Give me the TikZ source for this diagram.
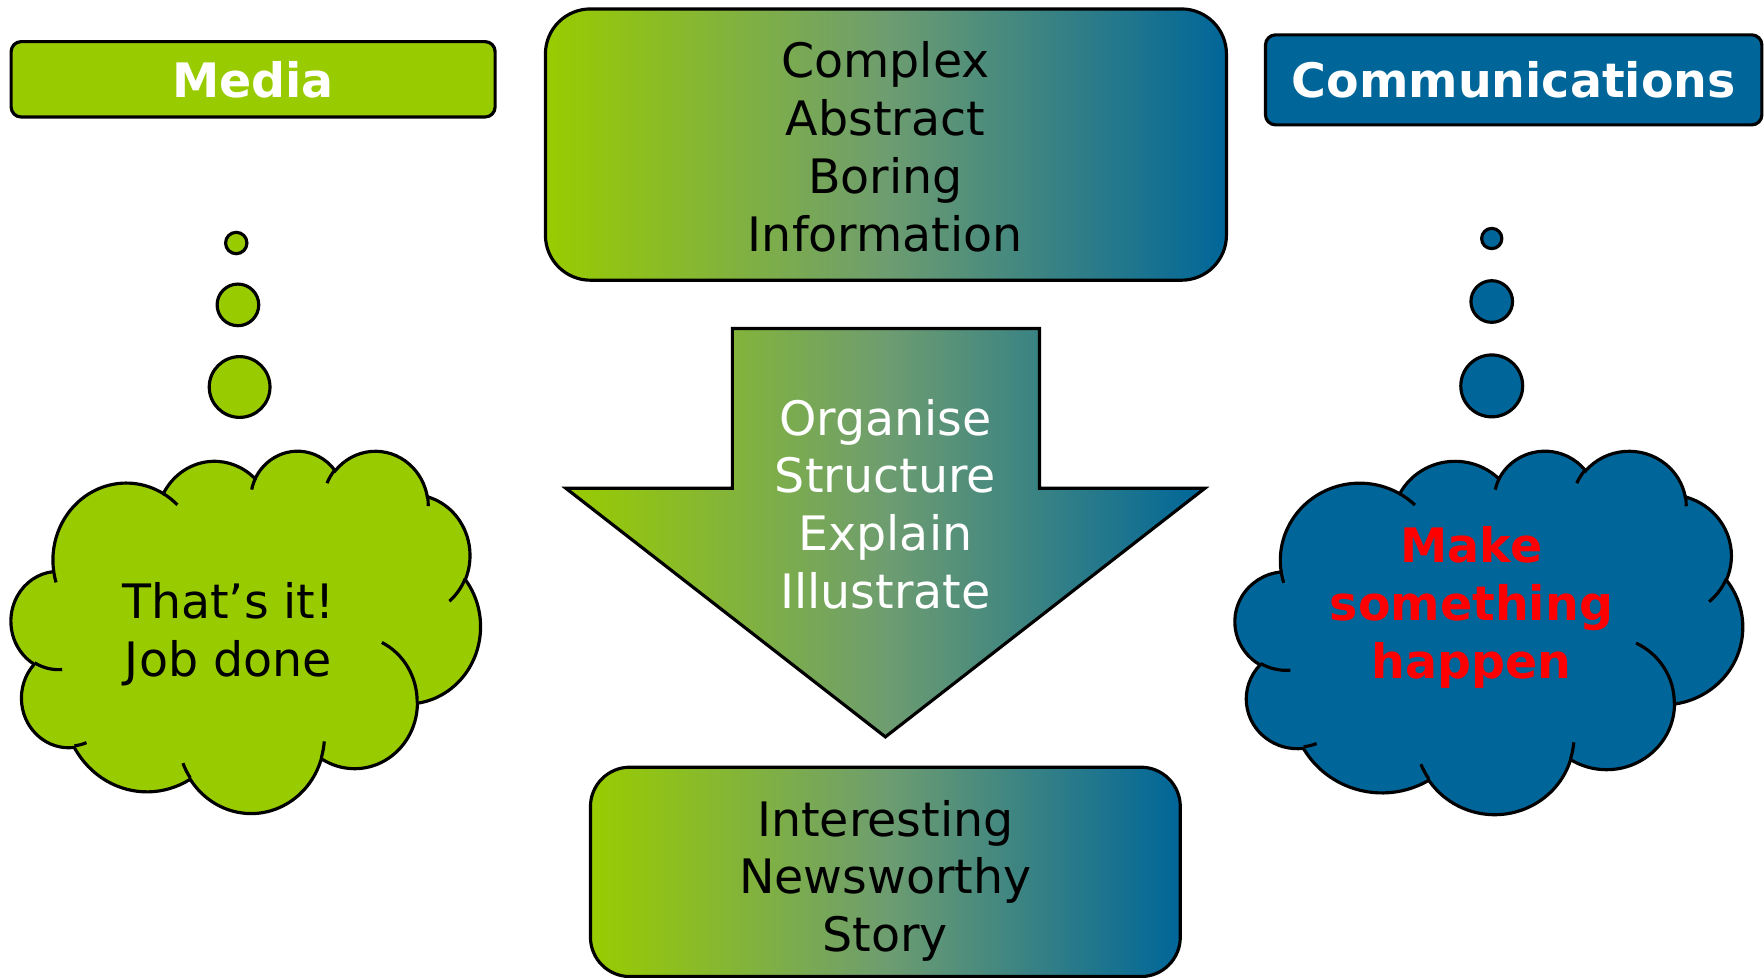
\documentclass[tikz,border=0pt]{standalone}
\usepackage{fontspec}
\setmainfont{DejaVu Sans}
\usepackage{tikz}
\usetikzlibrary{positioning}
\definecolor{mediagreen}{HTML}{99CC00}
\definecolor{commsblue}{HTML}{006699}
\definecolor{fademid}{HTML}{6E9D70}

\begin{document}
\begin{tikzpicture}[x=0.01cm,y=-0.01cm,thick,
    every node/.style={font=\fontsize{12}{14.6}\selectfont,align=center},
    titlebox/.style={draw,rounded corners=0.09cm,text=white,font=\fontsize{12}{14.6}\selectfont\bfseries},
    fadebox/.style={draw,left color=mediagreen,right color=commsblue,middle color=fademid}]
  \useasboundingbox (0,0) rectangle (1568,869);
  \node[titlebox,fill=mediagreen,minimum width=4.30cm,minimum height=0.67cm] (media) at (225,70.5) {Media};
  \node[titlebox,fill=commsblue,minimum width=4.41cm,minimum height=0.80cm] (comms) at (1345.5,71) {Communications};
  \node[fadebox,rounded corners=0.4cm,minimum width=6.05cm,minimum height=2.41cm] (info) at (787.5,128.5) {};
  \node (infotext) at (787,130.5) {Complex\\Abstract\\Boring\\Information};
  \draw[fadebox] (651,292) -- (924,292) -- (924,434) -- (1071,434) -- (787,655) -- (503,434) -- (651,434) -- cycle;
  \node[text=white] (tasks) at (787,448) {Organise\\Structure\\Explain\\Illustrate};
  \node[fadebox,rounded corners=0.35cm,minimum width=5.24cm,minimum height=1.86cm] (story) at (787,775) {};
  \node (storytext) at (787,783) {Interesting\\Newsworthy\\Story};
  \draw[fill=mediagreen] (210,216) circle [radius=9.5];
  \draw[fill=mediagreen] (211.5,271) circle [radius=18.5];
  \draw[fill=mediagreen] (213,344) circle [radius=27];
  \draw[fill=commsblue] (1326,212) circle [radius=9];
  \draw[fill=commsblue] (1326,268) circle [radius=18.5];
  \draw[fill=commsblue] (1326,343) circle [radius=27.5];
  \def\cloudfill{}
  \foreach \rw/\rh/\st/\sw in {67.53/91.90/-190.487/123.781,53.33/72.67/-144.102/89.945,43.65/59.45/-145.808/99.723,48.57/65.95/-130.986/117.242,53.33/72.73/-78.709/109.027,67.75/92.20/-46.267/130.269,57.85/78.67/0.625/114.033,67.52/92.15/22.452/115.173,77.20/105.43/66.243/75.711,43.60/59.18/-274.942/146.736,43.45/59.45/-246.829/152.519}{
    \pgfmathsetmacro\ta{atan2(\rw*sin(\st),\rh*cos(\st))}
    \pgfmathsetmacro\tb{atan2(\rw*sin(\st+\sw),\rh*cos(\st+\sw))}
    \pgfmathsetmacro\td{mod(\tb-\ta+720,360)}
    \xdef\cloudfill{\cloudfill arc[start angle=\ta,delta angle=\td,x radius=\rw,y radius=\rh]}
  }
  \def\cloudstubs{}
  \foreach \px/\py/\rw/\rh/\st/\sw in {46.93/261.77/43.45/59.45/86.742/26.430,69.28/348.99/43.60/59.18/73.610/11.447,164.78/390.90/67.52/92.15/137.624/14.081,288.27/347.51/67.52/92.15/6.453/15.998,341.29/229.54/57.85/78.67/-70.292/70.917,417.98/153.54/53.33/72.73/30.318/27.752,383.24/54.26/48.57/65.95/-13.744/14.859,290.78/39.52/48.57/65.95/-149.181/18.195,221.41/47.20/43.65/59.45/-163.494/17.686,140.00/51.92/67.53/91.90/-66.707/12.319,41.27/157.89/67.53/91.90/157.654/11.858}{
    \pgfmathsetmacro\ta{atan2(\rw*sin(\st),\rh*cos(\st))}
    \pgfmathsetmacro\tb{atan2(\rw*sin(\st+\sw),\rh*cos(\st+\sw))}
    \pgfmathsetmacro\td{mod(\tb-\ta+720,360)}
    \xdef\cloudstubs{\cloudstubs (\px,\py) arc[start angle=\ta,delta angle=\td,x radius=\rw,y radius=\rh]}
  }
  \foreach \cx/\cy/\cw/\ch/\cc in {10/400/417/322/mediagreen,1098/400/451/323/commsblue}{
    \begin{scope}[shift={(\cx,\cy)},xscale=\cw/432,yscale=\ch/432]
      \draw[fill=\cc] (39,143.7) \cloudfill -- cycle;
      \draw \cloudstubs;
    \end{scope}
  }
  \node (done) at (203,564) {That’s it!\\Job done};
  \node[text=red,font=\fontsize{12}{14.6}\selectfont\bfseries] (happen) at (1308,540) {Make\\something\\happen};
\end{tikzpicture}
\end{document}
